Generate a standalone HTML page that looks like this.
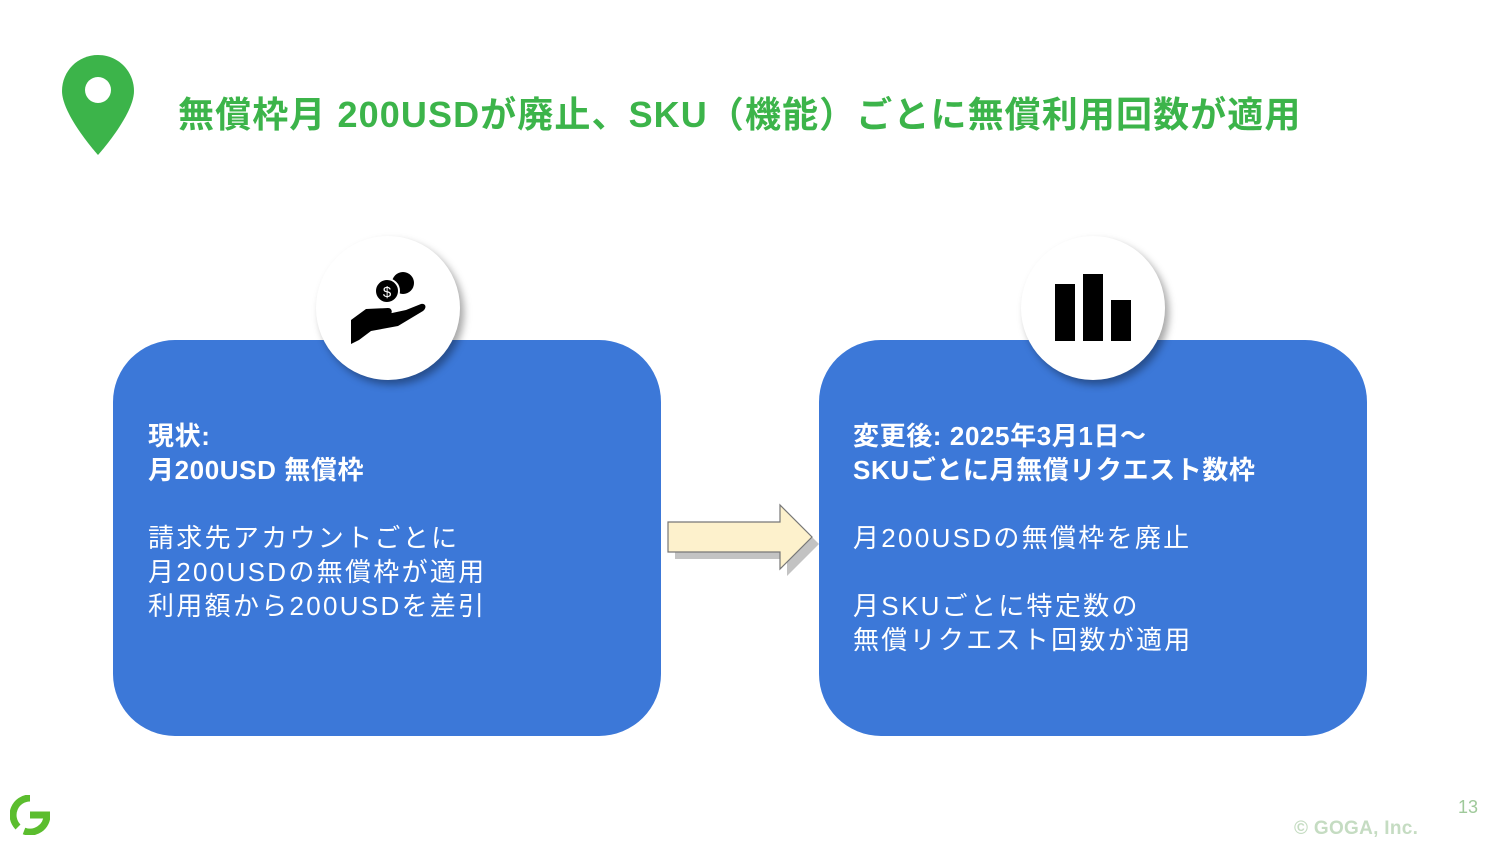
<!DOCTYPE html>
<html><head><meta charset="utf-8"><style>
body{margin:0;width:1500px;height:844px;background:#fff;position:relative;overflow:hidden;font-family:"Liberation Sans","Noto Sans CJK JP",sans-serif}
.t{position:absolute;left:178px;top:86px;font-size:36px;font-weight:bold;color:#3cb44a;white-space:nowrap;letter-spacing:1.1px}
.box{position:absolute;top:340px;width:548px;height:396px;background:#3c78d8;border-radius:62px}
.c{position:absolute;width:144px;height:144px;border-radius:50%;background:#fff;box-shadow:4px 5px 8px rgba(0,0,0,0.35);top:236px}
.tx{position:absolute;color:#fff;font-size:26px;line-height:34px;white-space:nowrap;letter-spacing:0.6px}
.tx span{letter-spacing:2.3px}
</style></head><body>
<svg style="position:absolute;left:62px;top:55px" width="72" height="102" viewBox="0 0 72 102"><path d="M36 0C16 0 0 16 0 36C0 60 36 100 36 100C36 100 72 60 72 36C72 16 56 0 36 0Z" fill="#3cb44a"/><circle cx="36" cy="35" r="13" fill="#fff"/></svg>
<div class="t">無償枠月 200USDが廃止、SKU（機能）ごとに無償利用回数が適用</div>
<div class="box" style="left:113px"></div>
<div class="box" style="left:819px"></div>
<div class="c" style="left:316px"><svg width="144" height="144" viewBox="0 0 144 144"><circle cx="87" cy="47" r="11" fill="#000"/><circle cx="71" cy="55" r="12" fill="#000" stroke="#fff" stroke-width="2"/><text x="71" y="61" font-size="15" fill="#fff" text-anchor="middle" font-family="Liberation Sans">$</text><path d="M35 84L50 73L72 72C77 72 77 79 72 79L62 80L90 74L105 68C110 67 111 72 107 75L82 90L55 95L43 104L35 108Z" fill="#000"/></svg></div>
<div class="c" style="left:1021px"><svg width="144" height="144" viewBox="0 0 144 144"><rect x="34" y="48" width="20" height="57" fill="#000"/><rect x="62" y="38" width="20" height="67" fill="#000"/><rect x="90" y="64" width="20" height="41" fill="#000"/></svg></div>
<svg style="position:absolute;left:660px;top:500px" width="160" height="80"><path d="M12 25H124V8L156 40L124 72V55H12Z" fill="#888" opacity="0.5" transform="translate(3,4)"/><path d="M8 22H120V5L152 37L120 69V52H8Z" fill="#fdf1cc" stroke="#777" stroke-width="1.2"/></svg>
<div class="tx" style="left:148px;top:419px;font-weight:bold">現状:<br>月200USD 無償枠<br><br><span style="font-weight:normal">請求先アカウントごとに<br>月200USDの無償枠が適用<br>利用額から200USDを差引</span></div>
<div class="tx" style="left:853px;top:419px;font-weight:bold">変更後: 2025年3月1日～<br>SKUごとに月無償リクエスト数枠<br><br><span style="font-weight:normal">月200USDの無償枠を廃止<br><br>月SKUごとに特定数の<br>無償リクエスト回数が適用</span></div>
<svg style="position:absolute;left:10px;top:795px" width="40" height="40" viewBox="0 0 40 40"><path d="M20 3A17 17 0 0 0 8 32" stroke="#5bbd2e" stroke-width="7" fill="none"/><path d="M14 36A17 17 0 0 0 37 20H20" stroke="#5bbd2e" stroke-width="7" fill="none"/></svg>
<div style="position:absolute;left:1458px;top:797px;font-size:18px;color:#9fc99a">13</div>
<div style="position:absolute;left:1294px;top:818px;font-size:19px;font-weight:bold;color:#c5dcc2;letter-spacing:0.3px">© GOGA, Inc.</div>
</body></html>
